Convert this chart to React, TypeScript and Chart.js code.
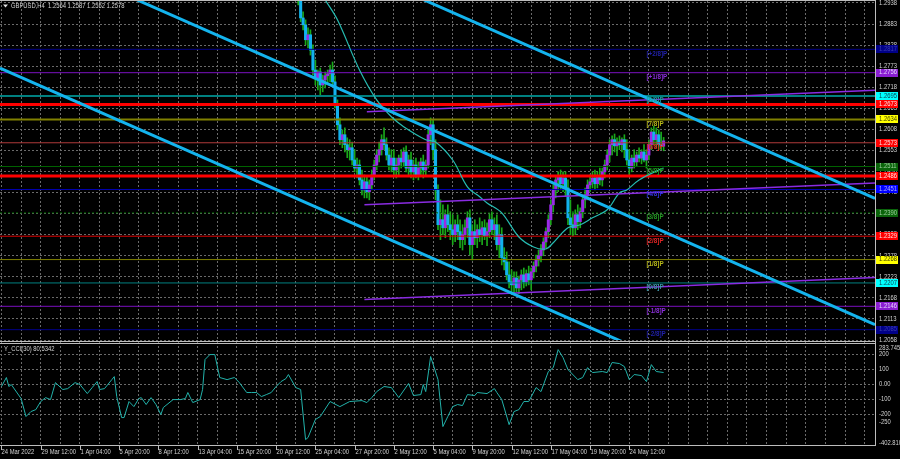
import React, { useEffect, useRef } from "react";
import { Chart, registerables } from "chart.js";
Chart.register(...registerables);

// ---------------- DATA ----------------
const symbolTitle = "GBPUSD,H4";
const lastOHLC = [1.2564, 1.2587, 1.2552, 1.2578];
const cciTitle = "Y_CCI(30) 80.5342";

const timeLabels = [
  "24 Mar 2022", "29 Mar 12:00", "1 Apr 04:00", "5 Apr 20:00", "8 Apr 12:00", "13 Apr 04:00",
  "15 Apr 20:00", "20 Apr 12:00", "25 Apr 04:00", "27 Apr 20:00", "2 May 12:00", "5 May 04:00",
  "9 May 20:00", "12 May 12:00", "17 May 04:00", "19 May 20:00", "24 May 12:00",
];
const timeLabelBars = [0, 16, 32, 48, 64, 80, 96, 112, 128, 144, 160, 176, 192, 208, 224, 240, 256];

const priceTicks = [
  1.2938, 1.2883, 1.2828, 1.2773, 1.2718, 1.2663, 1.2608, 1.2553, 1.2498,
  1.2443, 1.2388, 1.2333, 1.2278, 1.2223, 1.2168, 1.2113, 1.2058,
];

const candleStart = 121; // bar index of first visible candle
const opens = [
  1.3024, 1.2946, 1.2899, 1.2881, 1.2842, 1.2855, 1.2815, 1.2763, 1.2742, 1.2758,
  1.2724, 1.2737, 1.2748, 1.2753, 1.2763, 1.2732, 1.2675, 1.2620, 1.2581, 1.2594,
  1.2568, 1.2555, 1.2560, 1.2528, 1.2507, 1.2515, 1.2476, 1.2450, 1.2471, 1.2445,
  1.2463, 1.2489, 1.2515, 1.2541, 1.2555, 1.2581, 1.2568, 1.2541, 1.2515, 1.2533,
  1.2502, 1.2515, 1.2533, 1.2523, 1.2549, 1.2507, 1.2528, 1.2497, 1.2515, 1.2489,
  1.2507, 1.2523, 1.2502, 1.2515, 1.2594, 1.2620, 1.2555, 1.2450, 1.2359, 1.2372,
  1.2351, 1.2385, 1.2359, 1.2346, 1.2333, 1.2359, 1.2341, 1.2320, 1.2333, 1.2351,
  1.2377, 1.2307, 1.2341, 1.2325, 1.2346, 1.2333, 1.2351, 1.2330, 1.2341, 1.2372,
  1.2346, 1.2359, 1.2307, 1.2333, 1.2273, 1.2262, 1.2228, 1.2210, 1.2202, 1.2220,
  1.2194, 1.2215, 1.2228, 1.2210, 1.2231, 1.2215, 1.2236, 1.2251, 1.2267, 1.2278,
  1.2293, 1.2314, 1.2341, 1.2372, 1.2411, 1.2450, 1.2476, 1.2487, 1.2466, 1.2481,
  1.2455, 1.2377, 1.2359, 1.2351, 1.2385, 1.2367, 1.2393, 1.2424, 1.2437, 1.2463,
  1.2471, 1.2481, 1.2466, 1.2487, 1.2476, 1.2497, 1.2515, 1.2541, 1.2568, 1.2581,
  1.2565, 1.2575, 1.2568, 1.2581, 1.2555, 1.2528, 1.2507, 1.2533, 1.2523, 1.2541,
  1.2533, 1.2549, 1.2528, 1.2541, 1.2568, 1.2601, 1.2581, 1.2594, 1.2568, 1.2564,
];
const highs = [
  1.3037, 1.2959, 1.2915, 1.2894, 1.2873, 1.2868, 1.2829, 1.2789, 1.2763, 1.2768,
  1.2750, 1.2758, 1.2763, 1.2776, 1.2784, 1.2748, 1.2685, 1.2638, 1.2607, 1.2612,
  1.2586, 1.2581, 1.2575, 1.2555, 1.2533, 1.2528, 1.2502, 1.2489, 1.2487, 1.2476,
  1.2502, 1.2528, 1.2555, 1.2575, 1.2594, 1.2612, 1.2586, 1.2560, 1.2555, 1.2555,
  1.2533, 1.2541, 1.2555, 1.2560, 1.2565, 1.2541, 1.2549, 1.2528, 1.2533, 1.2523,
  1.2533, 1.2541, 1.2528, 1.2607, 1.2638, 1.2633, 1.2581, 1.2463, 1.2424, 1.2411,
  1.2398, 1.2411, 1.2393, 1.2385, 1.2372, 1.2385, 1.2372, 1.2359, 1.2372, 1.2393,
  1.2398, 1.2359, 1.2372, 1.2359, 1.2377, 1.2367, 1.2372, 1.2364, 1.2387, 1.2393,
  1.2377, 1.2385, 1.2359, 1.2351, 1.2299, 1.2288, 1.2262, 1.2241, 1.2236, 1.2236,
  1.2225, 1.2241, 1.2246, 1.2241, 1.2251, 1.2246, 1.2262, 1.2280, 1.2293, 1.2307,
  1.2325, 1.2351, 1.2385, 1.2424, 1.2463, 1.2487, 1.2497, 1.2502, 1.2497, 1.2497,
  1.2476, 1.2424, 1.2393, 1.2398, 1.2411, 1.2403, 1.2437, 1.2455, 1.2476, 1.2489,
  1.2497, 1.2502, 1.2497, 1.2507, 1.2507, 1.2528, 1.2555, 1.2581, 1.2591, 1.2596,
  1.2586, 1.2591, 1.2586, 1.2594, 1.2581, 1.2555, 1.2541, 1.2555, 1.2549, 1.2560,
  1.2555, 1.2568, 1.2555, 1.2581, 1.2612, 1.2617, 1.2612, 1.2607, 1.2601, 1.2587,
];
const lows = [
  1.2933, 1.2889, 1.2868, 1.2829, 1.2821, 1.2802, 1.2750, 1.2724, 1.2711, 1.2698,
  1.2706, 1.2716, 1.2727, 1.2732, 1.2721, 1.2664, 1.2607, 1.2568, 1.2560, 1.2549,
  1.2534, 1.2528, 1.2515, 1.2497, 1.2481, 1.2463, 1.2437, 1.2429, 1.2429, 1.2424,
  1.2450, 1.2476, 1.2502, 1.2523, 1.2541, 1.2555, 1.2528, 1.2502, 1.2497, 1.2489,
  1.2481, 1.2489, 1.2507, 1.2512, 1.2497, 1.2489, 1.2481, 1.2476, 1.2481, 1.2476,
  1.2489, 1.2481, 1.2487, 1.2507, 1.2568, 1.2528, 1.2424, 1.2346, 1.2320, 1.2333,
  1.2325, 1.2341, 1.2320, 1.2307, 1.2315, 1.2320, 1.2299, 1.2293, 1.2307, 1.2325,
  1.2280, 1.2267, 1.2307, 1.2299, 1.2315, 1.2307, 1.2320, 1.2304, 1.2325, 1.2333,
  1.2320, 1.2293, 1.2273, 1.2254, 1.2241, 1.2215, 1.2194, 1.2184, 1.2176, 1.2184,
  1.2179, 1.2189, 1.2194, 1.2199, 1.2202, 1.2189, 1.2220, 1.2236, 1.2251, 1.2262,
  1.2278, 1.2299, 1.2325, 1.2359, 1.2393, 1.2429, 1.2445, 1.2450, 1.2445, 1.2434,
  1.2359, 1.2333, 1.2330, 1.2333, 1.2346, 1.2351, 1.2377, 1.2403, 1.2424, 1.2445,
  1.2455, 1.2450, 1.2455, 1.2463, 1.2460, 1.2481, 1.2502, 1.2523, 1.2541, 1.2549,
  1.2539, 1.2555, 1.2549, 1.2534, 1.2515, 1.2489, 1.2497, 1.2507, 1.2512, 1.2523,
  1.2518, 1.2523, 1.2507, 1.2528, 1.2555, 1.2568, 1.2560, 1.2555, 1.2555, 1.2552,
];
const closes = [
  1.2946, 1.2899, 1.2881, 1.2842, 1.2855, 1.2815, 1.2763, 1.2742, 1.2758, 1.2724,
  1.2737, 1.2748, 1.2753, 1.2763, 1.2732, 1.2675, 1.2620, 1.2581, 1.2594, 1.2568,
  1.2555, 1.2560, 1.2528, 1.2507, 1.2515, 1.2476, 1.2450, 1.2471, 1.2445, 1.2463,
  1.2489, 1.2515, 1.2541, 1.2555, 1.2581, 1.2568, 1.2541, 1.2515, 1.2533, 1.2502,
  1.2515, 1.2533, 1.2523, 1.2549, 1.2507, 1.2528, 1.2497, 1.2515, 1.2489, 1.2507,
  1.2523, 1.2502, 1.2515, 1.2594, 1.2620, 1.2555, 1.2450, 1.2359, 1.2372, 1.2351,
  1.2385, 1.2359, 1.2346, 1.2333, 1.2359, 1.2341, 1.2320, 1.2333, 1.2351, 1.2377,
  1.2307, 1.2341, 1.2325, 1.2346, 1.2333, 1.2351, 1.2330, 1.2341, 1.2372, 1.2346,
  1.2359, 1.2307, 1.2333, 1.2273, 1.2262, 1.2228, 1.2210, 1.2202, 1.2220, 1.2194,
  1.2215, 1.2228, 1.2210, 1.2231, 1.2215, 1.2236, 1.2251, 1.2267, 1.2278, 1.2293,
  1.2314, 1.2341, 1.2372, 1.2411, 1.2450, 1.2476, 1.2487, 1.2466, 1.2481, 1.2455,
  1.2377, 1.2359, 1.2351, 1.2385, 1.2367, 1.2393, 1.2424, 1.2437, 1.2463, 1.2471,
  1.2481, 1.2466, 1.2487, 1.2476, 1.2497, 1.2515, 1.2541, 1.2568, 1.2581, 1.2565,
  1.2575, 1.2568, 1.2581, 1.2555, 1.2528, 1.2507, 1.2533, 1.2523, 1.2541, 1.2533,
  1.2549, 1.2528, 1.2541, 1.2568, 1.2601, 1.2581, 1.2594, 1.2568, 1.2564, 1.2578,
];

// moving average (thin teal curve)
const maBars = [132, 137, 146, 153, 159, 164, 173, 177, 184, 190, 195, 198, 204, 211, 217, 222, 225, 231, 236, 241, 247, 252, 255, 260, 268, 270];
const maValues = [
  1.2946, 1.2894, 1.2763, 1.2685, 1.2641, 1.2615, 1.2581, 1.2575, 1.2528, 1.2458, 1.2432, 1.2416, 1.2390,
  1.2327, 1.2301, 1.2296, 1.2312, 1.2351, 1.2359, 1.2377, 1.2398, 1.2442, 1.2450, 1.2476, 1.2502, 1.2507,
];

// Murrey math levels
const levelPrices = [1.2817, 1.2756, 1.2695, 1.2634, 1.2573, 1.2511, 1.2451, 1.2390, 1.2329, 1.2268, 1.2207, 1.2146, 1.2085];
const levelNames = ["[+2/8]P", "[+1/8]P", "[8/8]P", "[7/8]P", "[6/8]P", "[5/8]P", "[4/8]P", "[3/8]P", "[2/8]P", "[1/8]P", "[0/8]P", "[-1/8]P", "[-2/8]P"];
const levelNameBar = 263;
// red support / resistance lines
const srPrices = [1.2673, 1.2486];

// trend channel (sky blue) : [bar1, price1, bar2, price2]
const channelLines = [
  [172.3, 1.2946, 356.2, 1.2428],
  [55.3, 1.2946, 356.2, 1.2098],
  [-0.6, 1.2768, 254.0, 1.2051],
];
// violet rising lines
const violetLines = [
  [149, 1.2654, 356.2, 1.2710],
  [148, 1.2411, 356.2, 1.2468],
  [148, 1.2164, 356.2, 1.2221],
];

// CCI indicator
const cciBars = [
  0, 2, 3, 4, 8, 10, 12, 14, 16, 18, 20, 22, 25, 27, 30, 32, 35, 37, 39, 40, 42, 45, 46, 47, 49,
  50, 52, 54, 56, 57, 59, 61, 63, 65, 66, 70, 73, 75, 76, 78, 81, 82, 83, 85, 87, 89, 92, 95, 97, 100,
  102, 104, 106, 108, 110, 112, 114, 116, 117, 120, 122, 124, 125, 128, 130, 134, 138, 142, 147, 149,
  151, 153, 156, 159, 162, 166, 168, 171, 172, 173, 175, 178, 180, 182, 184, 186, 188, 190, 193, 194,
  198, 201, 202, 204, 207, 209, 211, 213, 215, 218, 220, 223, 225, 227, 229, 231, 235, 237, 239, 241,
  245, 247, 249, 252, 254, 256, 258, 261, 263, 265, 267, 270,
];
const cciValues = [
  -13, 47, -13, 0, -93, -213, -180, -167, -113, -87, -100, 13, -33, -27, 13, 0, -60, -20, 20, -33, -27, 33, 53, -80, -220,
  -220, -113, -147, -93, -87, -133, -87, -133, -200, -153, -100, -100, -93, -53, -120, -100, -33, 167, 200, 200, 47, 33, 47, 13, -53,
  -53, -53, -80, -67, -53, -13, 20, 40, 67, -20, -33, -367, -353, -233, -213, -113, -147, -113, -107, -120,
  -87, -47, -13, -20, -87, 7, -73, -67, 0, -47, 187, 33, -280, -213, -147, -133, -140, -67, -73, -53,
  -60, -27, -53, -100, -267, -180, -167, -113, -113, -20, -47, 87, 113, 233, 180, 100, 33, 47, 113, 80,
  87, 80, 147, 140, 120, 33, 67, 60, 20, 133, 87, 80.53,
];
const cciGridValues = [200, 100, 0, -100, -200];
const cciLabelValues = [283.7451, 200, 100, 0, -100, -200, -250, -402.8104];
const cciLabelTexts = ["283.7451", "200", "100", "0.00", "-100", "-200", "-250", "-402.8104"];

// ---------------- STYLE ----------------
const FONT = '"Liberation Sans", Arial, sans-serif';
const TEXT = "#d2d2d2";
const GRID = "#6a6a6a";
const BORDER = "#bdbdbd";
const WICK = "#1aa81a";
const BULL = "#9a2be6";
const BEAR = "#12b2ee";
const CHANNEL = "#14b4ee";
const VIOLET = "#8a2be2";
const MA_COLOR = "#26bcb2";
const CCI_COLOR = "#22b2aa";
const X_MIN = -0.6;
const X_MAX = 356.2;
const Y_MIN = 1.2058;
const Y_MAX = 1.29432;
const CCI_MIN = -402.8104;
const CCI_MAX = 283.7451;

const levelStyles = [
  { line: "#000088", w: 1, dash: [], box: "#000088", boxText: "#3c3cb0", name: "#2020a8" },
  { line: "#7a10c0", w: 1, dash: [], box: "#8a1ed2", boxText: "#e6d4ff", name: "#8a2ed8" },
  { line: "#008080", w: 2, dash: [], box: "#00ffff", boxText: "#0b3a48", name: "#1aa0a0" },
  { line: "#808000", w: 2, dash: [], box: "#ffff00", boxText: "#404000", name: "#b8b818" },
  { line: "#b03a3a", w: 1, dash: [], box: "#ff0000", boxText: "#ffe0e0", name: "#e02424" },
  { line: "#006400", w: 1, dash: [], box: "#0a640a", boxText: "#a0d0a0", name: "#229a22" },
  { line: "#0000b0", w: 1, dash: [], box: "#0000ff", boxText: "#b0b0ff", name: "#3030d8" },
  { line: "#006400", w: 1, dash: [2, 2], box: "#0a640a", boxText: "#a0d0a0", name: "#229a22" },
  { line: "#e00000", w: 1, dash: [], box: "#ff0000", boxText: "#ffe0e0", name: "#e02424" },
  { line: "#808000", w: 1, dash: [], box: "#ffff00", boxText: "#404000", name: "#b8b818" },
  { line: "#008080", w: 1, dash: [], box: "#00ffff", boxText: "#0b3a48", name: "#3e98a8" },
  { line: "#7a10c0", w: 1, dash: [], box: "#8a1ed2", boxText: "#e6d4ff", name: "#8a2ed8" },
  { line: "#000088", w: 1, dash: [], box: "#000088", boxText: "#3c3cb0", name: "#2020a8" },
];

// ---------------- HELPERS ----------------
function drawText(ctx: CanvasRenderingContext2D, s: string, x: number, y: number, color: string, size = 6.5, sx = 0.9, weight = "normal") {
  ctx.save();
  ctx.font = `${weight} ${size}px ${FONT}`;
  ctx.fillStyle = color;
  ctx.textBaseline = "middle";
  ctx.textAlign = "left";
  ctx.translate(x, y);
  ctx.scale(sx, 1);
  ctx.fillText(s, 0, 0);
  ctx.restore();
}
function seg(ctx: CanvasRenderingContext2D, x1: number, y1: number, x2: number, y2: number) {
  ctx.beginPath();
  ctx.moveTo(x1, y1);
  ctx.lineTo(x2, y2);
  ctx.stroke();
}

const gridBars = Array.from({ length: 45 }, (_, i) => i * 8);

function xScaleOpts() {
  return {
    type: "linear",
    min: X_MIN,
    max: X_MAX,
    offset: false,
    grid: { offset: false, color: GRID, lineWidth: 1, drawTicks: false },
    border: { display: false, dash: [2, 2] },
    ticks: { display: false },
    afterBuildTicks: (s: any) => {
      s.ticks = gridBars.map((v) => ({ value: v }));
    },
    afterFit: (s: any) => {
      s.height = 0;
    },
  };
}

function lineDs(points: { x: number; y: number }[], color: string, width: number, order: number, dash: number[] = [], tension = 0) {
  return {
    type: "line",
    data: points,
    borderColor: color,
    backgroundColor: color,
    borderWidth: width,
    borderDash: dash,
    pointRadius: 0,
    fill: false,
    tension,
    order,
    clip: 0,
  };
}

// ---------------- PLUGINS ----------------
const mainOverlay = {
  id: "mainOverlay",
  afterDraw(chart: any) {
    const { ctx, chartArea: a, scales } = chart;
    const xs = scales.x;
    const ys = scales.y;
    ctx.save();
    // on-chart level names
    levelPrices.forEach((p, i) => {
      drawText(ctx, levelNames[i], xs.getPixelForValue(levelNameBar), ys.getPixelForValue(p) + 4.5, levelStyles[i].name, 7, 0.9, "bold");
    });
    // borders
    ctx.strokeStyle = BORDER;
    ctx.lineWidth = 1;
    seg(ctx, a.right + 0.5, 0, a.right + 0.5, chart.height);
    seg(ctx, 0, 0.5, a.right, 0.5);
    seg(ctx, 0, chart.height - 0.5, a.right + 1, chart.height - 0.5);
    // price tick labels
    priceTicks.forEach((v) => drawText(ctx, v.toFixed(4), a.right + 4, ys.getPixelForValue(v), TEXT));
    // level boxes
    const boxes = [
      ...levelPrices.map((p, i) => ({ p, bg: levelStyles[i].box, fg: levelStyles[i].boxText })),
      ...srPrices.map((p) => ({ p, bg: "#ff0000", fg: "#ffe8e8" })),
    ];
    boxes.forEach((b) => {
      const y = ys.getPixelForValue(b.p);
      ctx.fillStyle = b.bg;
      ctx.fillRect(a.right + 1, Math.round(y - 4), 22, 8);
      drawText(ctx, b.p.toFixed(4), a.right + 4, y, b.fg);
    });
    // title
    ctx.fillStyle = "#e0e0e0";
    ctx.beginPath();
    ctx.moveTo(3, 4.5);
    ctx.lineTo(8, 4.5);
    ctx.lineTo(5.5, 7.5);
    ctx.closePath();
    ctx.fill();
    drawText(ctx, `${symbolTitle}  ${lastOHLC.map((v) => v.toFixed(4)).join(" ")}`, 11, 6, TEXT);
    ctx.restore();
  },
};

const cciOverlay = {
  id: "cciOverlay",
  afterDraw(chart: any) {
    const { ctx, chartArea: a, scales } = chart;
    const xs = scales.x;
    const ys = scales.y;
    ctx.save();
    ctx.strokeStyle = BORDER;
    ctx.lineWidth = 1;
    seg(ctx, 0, 1.5, a.right, 1.5);
    seg(ctx, a.right + 0.5, 0, a.right + 0.5, a.bottom + 1);
    seg(ctx, 0, a.bottom + 0.5, a.right + 1, a.bottom + 0.5);
    // tick labels
    cciLabelValues.forEach((v, i) => {
      let y = ys.getPixelForValue(v);
      y = Math.max(a.top + 6.5, Math.min(a.bottom - 2, y));
      drawText(ctx, cciLabelTexts[i], a.right + 4, y, TEXT);
    });
    // title
    drawText(ctx, cciTitle, 4, 7.5, TEXT);
    // time labels
    timeLabelBars.forEach((b, i) => {
      const x = Math.round(xs.getPixelForValue(b)) + 0.5;
      seg(ctx, x, a.bottom + 1, x, a.bottom + 5);
      drawText(ctx, timeLabels[i], x, a.bottom + 7.5, TEXT);
    });
    ctx.restore();
  },
};

// ---------------- COMPONENT ----------------
export default function App() {
  const mainRef = useRef<HTMLCanvasElement>(null);
  const cciRef = useRef<HTMLCanvasElement>(null);

  useEffect(() => {
    document.body.style.margin = "0";
    document.body.style.background = "#000";

    const wickData = lows.map((l, k) => ({ x: candleStart + k, y: [l, highs[k]] }));
    const bodyData = opens.map((o, k) => ({ x: candleStart + k, y: [Math.min(o, closes[k]), Math.max(o, closes[k])] }));
    const bodyColors = opens.map((o, k) => (closes[k] >= o ? BULL : BEAR));

    const datasets: any[] = [
      { type: "bar", data: wickData, backgroundColor: WICK, barThickness: 1, grouped: false, order: 101 },
      { type: "bar", data: bodyData, backgroundColor: bodyColors, barThickness: 2.4, minBarLength: 1, grouped: false, order: 100 },
    ];
    levelPrices.forEach((p, i) => {
      const st = levelStyles[i];
      datasets.push(lineDs([{ x: X_MIN, y: p }, { x: X_MAX, y: p }], st.line, st.w, 60, st.dash));
    });
    srPrices.forEach((p) => datasets.push(lineDs([{ x: X_MIN, y: p }, { x: X_MAX, y: p }], "#ff0000", 3, 55)));
    datasets.push(lineDs(maBars.map((b, i) => ({ x: b, y: maValues[i] })), MA_COLOR, 1.2, 40, [], 0.35));
    violetLines.forEach((l) => datasets.push(lineDs([{ x: l[0], y: l[1] }, { x: l[2], y: l[3] }], VIOLET, 1.5, 30)));
    channelLines.forEach((l) => datasets.push(lineDs([{ x: l[0], y: l[1] }, { x: l[2], y: l[3] }], CHANNEL, 3, 20)));

    const main = new Chart(mainRef.current as HTMLCanvasElement, {
      type: "bar",
      data: { datasets },
      options: {
        animation: false,
        responsive: false,
        maintainAspectRatio: false,
        events: [],
        layout: { padding: { top: 1, bottom: 2, left: 0, right: 25 } },
        plugins: { legend: { display: false }, tooltip: { enabled: false } },
        scales: {
          x: xScaleOpts(),
          y: {
            type: "linear",
            position: "right",
            min: Y_MIN,
            max: Y_MAX,
            beginAtZero: false,
            grid: { color: GRID, lineWidth: 1, drawTicks: false },
            border: { display: false, dash: [2, 2] },
            ticks: { display: false },
            afterBuildTicks: (s: any) => {
              s.ticks = priceTicks.map((v) => ({ value: v }));
            },
            afterFit: (s: any) => {
              s.width = 0;
            },
          },
        },
      } as any,
      plugins: [mainOverlay],
    } as any);

    const cci = new Chart(cciRef.current as HTMLCanvasElement, {
      type: "line",
      data: {
        datasets: [lineDs(cciBars.map((b, i) => ({ x: b, y: cciValues[i] })), CCI_COLOR, 1, 1)],
      },
      options: {
        animation: false,
        responsive: false,
        maintainAspectRatio: false,
        events: [],
        layout: { padding: { top: 0, bottom: 14, left: 0, right: 25 } },
        plugins: { legend: { display: false }, tooltip: { enabled: false } },
        scales: {
          x: xScaleOpts(),
          y: {
            type: "linear",
            position: "right",
            min: CCI_MIN,
            max: CCI_MAX,
            grid: { color: GRID, lineWidth: 1, drawTicks: false },
            border: { display: false, dash: [2, 2] },
            ticks: { display: false },
            afterBuildTicks: (s: any) => {
              s.ticks = cciGridValues.map((v) => ({ value: v }));
            },
            afterFit: (s: any) => {
              s.width = 0;
            },
          },
        },
      } as any,
      plugins: [cciOverlay],
    } as any);

    return () => {
      main.destroy();
      cci.destroy();
    };
  }, []);

  return (
    <div style={{ position: "relative", width: 900, height: 459, background: "#000", overflow: "hidden" }}>
      <canvas ref={mainRef} width={900} height={342} style={{ position: "absolute", left: 0, top: 0, width: 900, height: 342 }} />
      <canvas ref={cciRef} width={900} height={117} style={{ position: "absolute", left: 0, top: 342, width: 900, height: 117 }} />
    </div>
  );
}
